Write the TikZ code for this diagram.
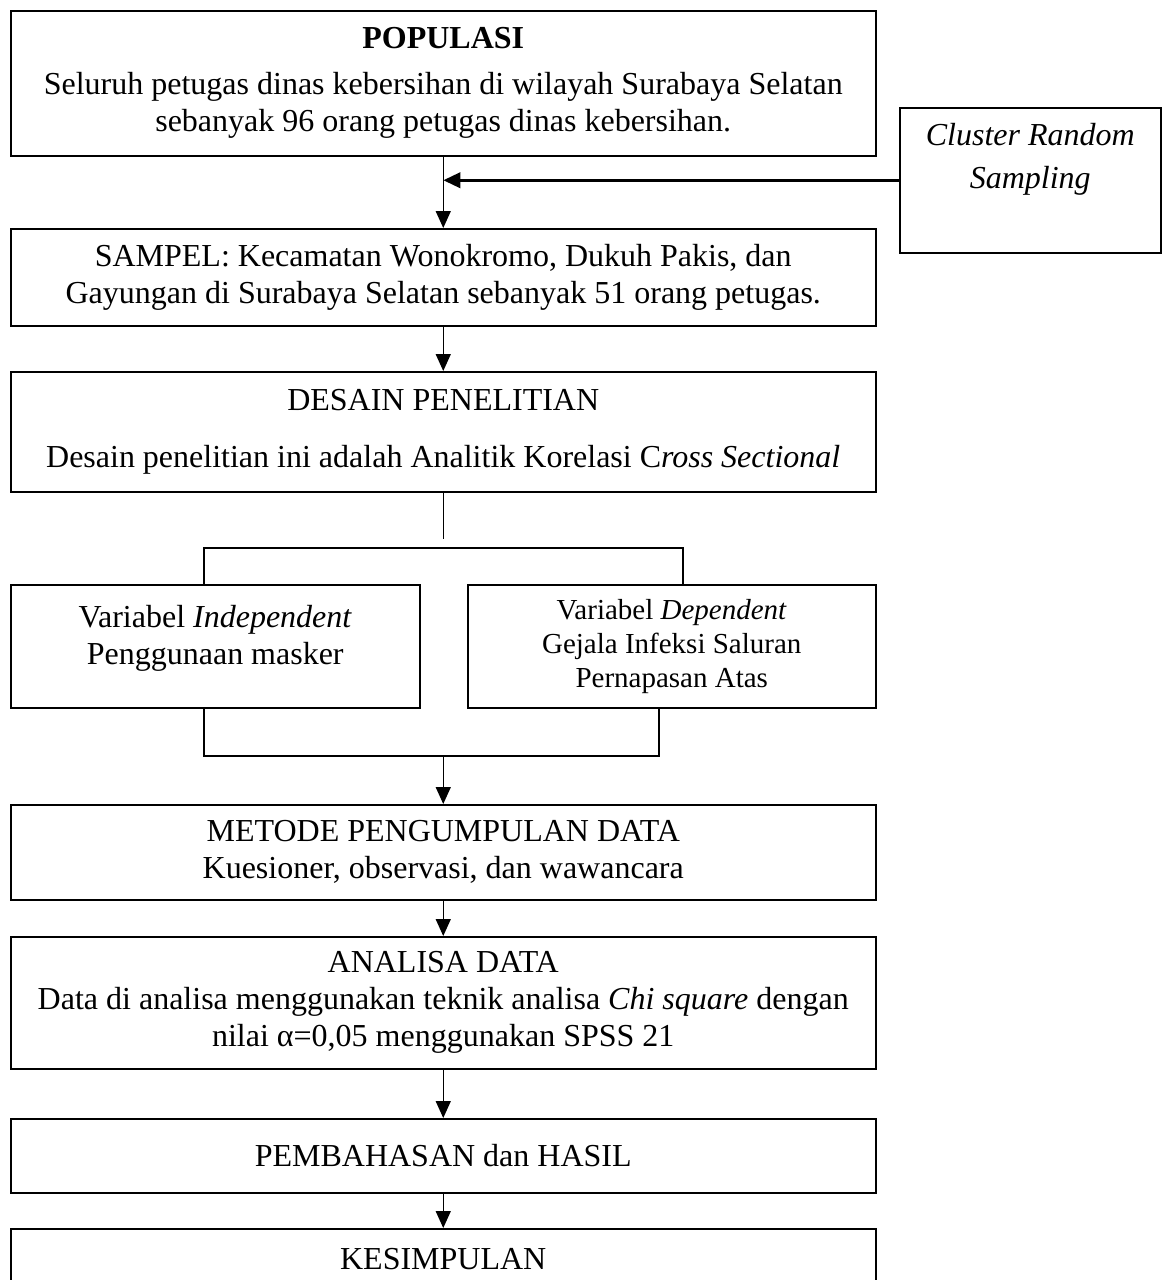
\documentclass[tikz,border=0pt]{standalone}
\usepackage{fontspec}
\setmainfont{Liberation Serif}
\usetikzlibrary{arrows.meta}
\tikzset{
	box/.style={draw,line width=1.5pt,align=center,anchor=north west,minimum width=865pt,inner sep=0pt},
	arr/.style={line width=1.5pt,-{Triangle[length=17pt,width=15pt]}},
	ln/.style={line width=1.5pt}
}
\begin{document}
\begin{tikzpicture}[x=1pt,y=-1pt,font=\fontsize{32}{37}\selectfont]
	\useasboundingbox (0,0) rectangle (1165,1280);
	\node[box,minimum height=145pt] (pop) at (10,10) {\textbf{POPULASI}\\[9pt]Seluruh petugas dinas kebersihan di wilayah Surabaya Selatan\\sebanyak 96 orang petugas dinas kebersihan.\\[-29pt]\mbox{}};
	\node[box,minimum width=261pt,minimum height=145pt] (clu) at (899,107) {\textit{Cluster Random}\\[6pt]\textit{Sampling}\\[12pt]\mbox{}};
	\node[box,minimum height=97pt] (sam) at (10,228) {SAMPEL: Kecamatan Wonokromo, Dukuh Pakis, dan\\Gayungan di Surabaya Selatan sebanyak 51 orang petugas.};
	\node[box,minimum height=120pt] (des) at (10,371) {DESAIN PENELITIAN\\[20pt]Desain penelitian ini adalah Analitik Korelasi C\textit{ross Sectional}};
	\node[box,minimum width=409pt,minimum height=123pt] (indep) at (10,584) {Variabel \textit{Independent}\\Penggunaan masker\\[-14pt]\mbox{}};
	\node[box,minimum width=408pt,minimum height=123pt,font=\fontsize{29}{34}\selectfont] (dep) at (467,584) {Variabel \textit{Dependent}\\Gejala Infeksi Saluran\\Pernapasan Atas};
	\node[box,minimum height=95pt] (met) at (10,804) {METODE PENGUMPULAN DATA\\Kuesioner, observasi, dan wawancara};
	\node[box,minimum height=132pt] (ana) at (10,936) {ANALISA DATA\\Data di analisa menggunakan teknik analisa \textit{Chi square} dengan\\nilai α=0,05 menggunakan SPSS 21};
	\node[box,minimum height=74pt] (pem) at (10,1118) {PEMBAHASAN dan HASIL};
	\node[box,minimum height=60pt] (kes) at (10,1228) {KESIMPULAN};
	\coordinate (desend) at (442.5,539);
	\coordinate (splitL) at (204,548);
	\coordinate (splitR) at (683,548);
	\coordinate (joinL) at (204,756);
	\coordinate (joinR) at (659,756);
	\draw[arr] (pop.south) -- (sam.north);
	\draw[arr,line width=3.5pt] (clu.west) -- (pop.south |- clu.west);
	\draw[arr] (sam.south) -- (des.north);
	\draw[ln] (des.south) -- (des.south |- desend);
	\draw[ln] (indep.north -| splitL) -- (splitL) -- (splitR) -- (dep.north -| splitR);
	\draw[ln] (indep.south -| joinL) -- (joinL) -- (joinR) -- (dep.south -| joinR);
	\draw[arr] (joinL -| met.north) -- (met.north);
	\draw[arr] (met.south) -- (ana.north);
	\draw[arr] (ana.south) -- (pem.north);
	\draw[arr] (pem.south) -- (kes.north);
\end{tikzpicture}
\end{document}
